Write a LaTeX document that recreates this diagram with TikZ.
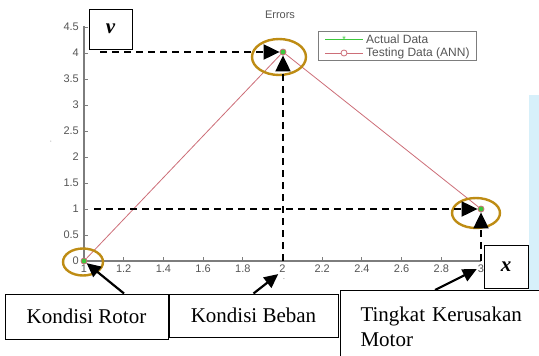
\documentclass[tikz,border=0pt]{standalone}
\usepackage{fontspec}
\setmainfont{Liberation Serif}
\newfontfamily\plotfont{Liberation Sans}
\usetikzlibrary{arrows.meta}
\definecolor{ringgold}{RGB}{190,140,20}
\definecolor{axisgray}{RGB}{125,125,125}
\definecolor{labelgray}{RGB}{85,85,85}
\definecolor{datared}{RGB}{205,110,120}
\definecolor{datagreen}{RGB}{60,200,60}
\definecolor{wmark}{RGB}{215,240,250}
\tikzset{
  tick/.style={axisgray, line width=1pt},
  ticklabel/.style={labelgray, font=\plotfont\fontsize{11}{12}\selectfont, inner sep=1pt},
  ring/.style={ringgold, line width=2.4pt},
  datapt/.style={circle, draw=datared, fill=datagreen, line width=0.8pt, inner sep=0, minimum size=6pt},
  dasharrow/.style={line width=2pt, dash pattern=on 7pt off 5pt, -{Triangle[length=16pt,width=15pt]}},
  solidarrow/.style={line width=2.2pt, -{Triangle[length=14pt,width=13pt]}},
  labelbox/.style={draw, line width=1pt, fill=white, font=\fontsize{21}{25}\selectfont},
  varbox/.style={draw, line width=1pt, fill=white, font=\bfseries\itshape\fontsize{21}{25}\selectfont}
}
\begin{document}
\begin{tikzpicture}[x=1pt, y=-1pt]
\useasboundingbox[fill=white] (0,0) rectangle (539,356);
\fill[wmark] (529,95) rectangle (539,300);
\node[labelgray, font=\plotfont\fontsize{11}{12}\selectfont] (title) at (280,15){Errors};
\draw[axisgray, line width=1.2pt] (84,26) -- (84,261) -- (481,261);
\foreach \v in {0,0.5,1,1.5,2,2.5,3,3.5,4,4.5}{
  \draw[tick] (84,261-52*\v) -- (88,261-52*\v);
  \node[ticklabel, anchor=east] at (80,261-52*\v){\v};
}
\foreach \u [count=\i] in {1,1.2,1.4,1.6,1.8,2,2.2,2.4,2.6,2.8,3}{
  \draw[tick] (84+198.5*\u-198.5,261) -- (84+198.5*\u-198.5,257);
  \node[ticklabel, anchor=north] (xl\i) at (84+198.5*\u-198.5,264){\u};
}
\node[labelgray, font=\tiny] (xname) at (284,280){-};
\node[labelgray, font=\tiny] (yname) at (51,143){'};
\node[draw=axisgray, line width=0.8pt, minimum width=158pt, minimum height=29pt] (legend) at (397,45.5){};
\draw[datagreen, line width=0.8pt] (325,39) -- (363,39);
\node[datagreen, font=\plotfont\fontsize{9}{9}\selectfont, inner sep=0] (lstar) at (344,39){*};
\draw[datared, line width=0.8pt] (325,53) -- (363,53);
\node[circle, draw=datared, line width=0.8pt, fill=white, inner sep=0, minimum size=6pt] (lcirc) at (344,53){};
\node[labelgray, font=\plotfont\fontsize{12}{13}\selectfont, anchor=west, inner sep=0] (lt1) at (366,39){Actual Data};
\node[labelgray, font=\plotfont\fontsize{12}{13}\selectfont, anchor=west, inner sep=0] (lt2) at (366,53){Testing Data (ANN)};
\node[datapt] (p1) at (84,261){};
\node[datapt] (p2) at (283,52){};
\node[datapt] (p3) at (481,209){};
\draw[datared, line width=0.8pt] (p1) -- (p2) -- (p3);
\draw[ring] (83,262) ellipse (20pt and 13.5pt);
\draw[ring] (279,57) ellipse (27pt and 18pt);
\draw[ring] (476,213) ellipse (24pt and 15pt);
\coordinate (c4) at (100,52);
\coordinate (c2) at (283,261);
\coordinate (c1) at (94,209);
\coordinate (c3) at (481,261);
\draw[dasharrow] (c4) -- (p2);
\draw[dasharrow] (c2) -- (p2);
\draw[dasharrow] (c1) -- (p3);
\draw[dasharrow] (c3) -- (p3);
\node[varbox, minimum width=43pt, minimum height=40pt] (vbox) at (110.5,29){v};
\node[varbox, minimum width=44pt, minimum height=43pt] (xbox) at (506,266.5){x};
\node[labelbox, minimum width=163pt, minimum height=45pt] (rotor) at (86.5,316.5){Kondisi Rotor};
\node[labelbox, minimum width=169pt, minimum height=43pt] (beban) at (253.5,315.5){Kondisi Beban};
\node[labelbox, anchor=north west, align=left, text width=165pt, inner xsep=20pt, inner ysep=16pt] (rusak) at (340,290){Tingkat Kerusakan\\Motor};
\draw[solidarrow] ([xshift=37.5pt]rotor.north) -- (p1);
\draw[solidarrow] (beban.north) -- (xl6.south west);
\draw[solidarrow] ([xshift=95pt]rusak.north west) -- (xl11.west);
\end{tikzpicture}
\end{document}
